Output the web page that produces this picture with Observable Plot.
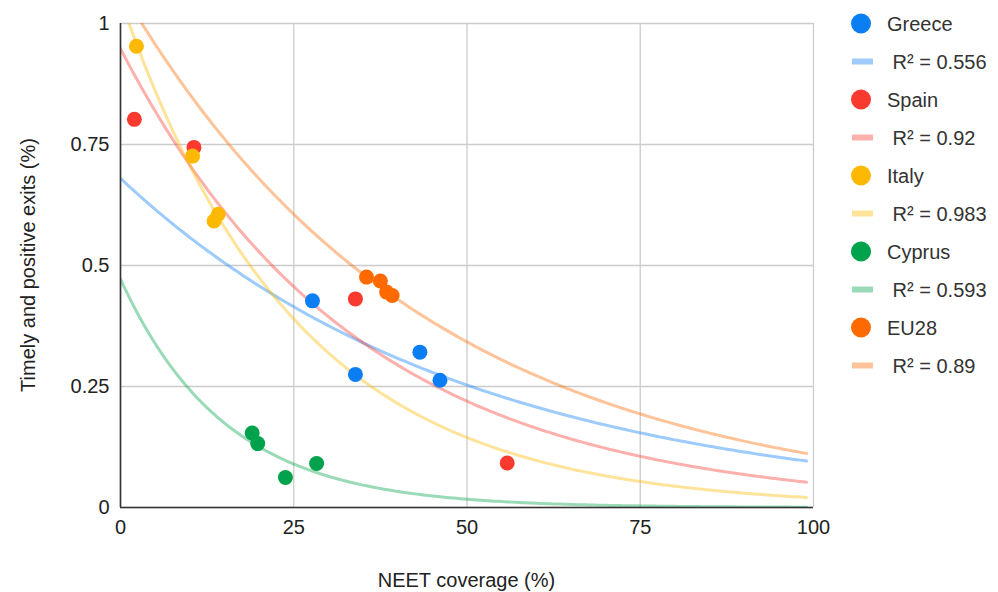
<!DOCTYPE html>
<html><head><meta charset="utf-8">
<script src="https://cdn.jsdelivr.net/npm/d3@7"></script>
<script src="https://cdn.jsdelivr.net/npm/@observablehq/plot@0.6"></script>
<style>
body{margin:0;background:#fff;font-family:"Liberation Sans",Arial,sans-serif}
#wrap{position:relative;width:998px;height:592px}
#wrap svg{position:absolute;left:0;top:0}
</style>
</head><body><div id="wrap"></div>
<script>
const countries = ["Greece", "Spain", "Italy", "Cyprus", "EU28"];
const colors = ["#0b7ef4", "#fa3a2f", "#fdb902", "#00a24c", "#ff6a00"];

// NEET coverage (%) and timely and positive exits per series
const greeceX = [27.7, 33.9, 43.2, 46.1];
const greeceY = [0.427, 0.275, 0.321, 0.263];
const spainX = [2.0, 10.6, 33.9, 55.8];
const spainY = [0.802, 0.744, 0.431, 0.092];
const italyX = [2.3, 10.4, 14.1, 13.5];
const italyY = [0.953, 0.726, 0.606, 0.592];
const cyprusX = [19.0, 19.8, 23.8, 28.3];
const cyprusY = [0.154, 0.132, 0.062, 0.091];
const eu28X = [35.5, 37.5, 38.4, 39.2];
const eu28Y = [0.476, 0.468, 0.445, 0.438];

// exponential trendline parameters (y = a·e^(b·x)) and R²
const trendA = [0.680, 0.948, 1.050, 0.472, 1.073];
const trendB = [-0.01978, -0.02925, -0.03966, -0.06636, -0.02286];
const rSquared = ["0.556", "0.92", "0.983", "0.593", "0.89"];

const xTicks = [0, 25, 50, 75, 100];
const yTicks = [0, 0.25, 0.5, 0.75, 1];
const xLabel = "NEET coverage (%)";
const yLabel = "Timely and positive exits (%)";

const seriesX = [greeceX, spainX, italyX, cyprusX, eu28X];
const seriesY = [greeceY, spainY, italyY, cyprusY, eu28Y];

const points = [];
countries.forEach((c, i) => seriesX[i].forEach((x, j) => points.push({country: c, x, y: seriesY[i][j]})));

const trend = [];
countries.forEach((c, i) => {
  for (let x = 0; x <= 99; x += 0.5) trend.push({country: c, x, y: trendA[i] * Math.exp(trendB[i] * x)});
});

const font = '"Liberation Sans", Arial, sans-serif';
const chart = Plot.plot({
  width: 998, height: 592,
  marginLeft: 120, marginRight: 185, marginTop: 23, marginBottom: 85,
  style: {fontFamily: font, fontSize: "20px", color: "#222", background: "transparent"},
  x: {domain: [0, 100]},
  y: {domain: [0, 1]},
  color: {domain: countries, range: colors},
  marks: [
    Plot.gridX(xTicks, {stroke: "#cccccc", strokeOpacity: 1, strokeWidth: 1.3}),
    Plot.gridY(yTicks, {stroke: "#cccccc", strokeOpacity: 1, strokeWidth: 1.3}),
    Plot.line(trend, {x: "x", y: "y", z: "country", stroke: "country", strokeWidth: 3, strokeOpacity: 0.4, clip: true}),
    Plot.ruleX([0], {stroke: "#333", strokeWidth: 1.6}),
    Plot.ruleY([0], {stroke: "#333", strokeWidth: 1.6}),
    Plot.dot(points, {x: "x", y: "y", fill: "country", r: 7.5}),
    Plot.axisX(xTicks, {tickSize: 0, tickPadding: 12, label: null, fontSize: 20, fill: "#222"}),
    Plot.axisY(yTicks, {tickSize: 0, tickPadding: 11, label: null, fontSize: 20, fill: "#222", tickFormat: d => String(d)})
  ]
});
document.getElementById("wrap").appendChild(chart);

const svg = d3.select(chart);
svg.append("text").attr("x", 466.5).attr("y", 587).attr("text-anchor", "middle")
  .attr("font-size", 20).attr("font-family", font).attr("fill", "#222").text(xLabel);
svg.append("text").attr("transform", "translate(35,265) rotate(-90)").attr("text-anchor", "middle")
  .attr("font-size", 20).attr("font-family", font).attr("fill", "#222").text(yLabel);

// legend
const leg = svg.append("g").attr("font-family", font).attr("font-size", 20).attr("fill", "#333").attr("text-anchor", "start");
countries.forEach((c, i) => {
  const y0 = 23.5 + i * 76, y1 = y0 + 38;
  leg.append("circle").attr("cx", 861).attr("cy", y0).attr("r", 10).attr("fill", colors[i]);
  leg.append("text").attr("x", 887).attr("y", y0).attr("dy", "0.35em").attr("text-anchor", "start").text(c);
  leg.append("rect").attr("x", 852).attr("y", y1 - 3).attr("width", 21).attr("height", 6)
    .attr("fill", colors[i]).attr("fill-opacity", 0.4);
  leg.append("text").attr("x", 887).attr("y", y1).attr("dy", "0.35em").attr("text-anchor", "start").text("\u00a0R\u00b2 = " + rSquared[i]);
});
</script>
</body></html>
